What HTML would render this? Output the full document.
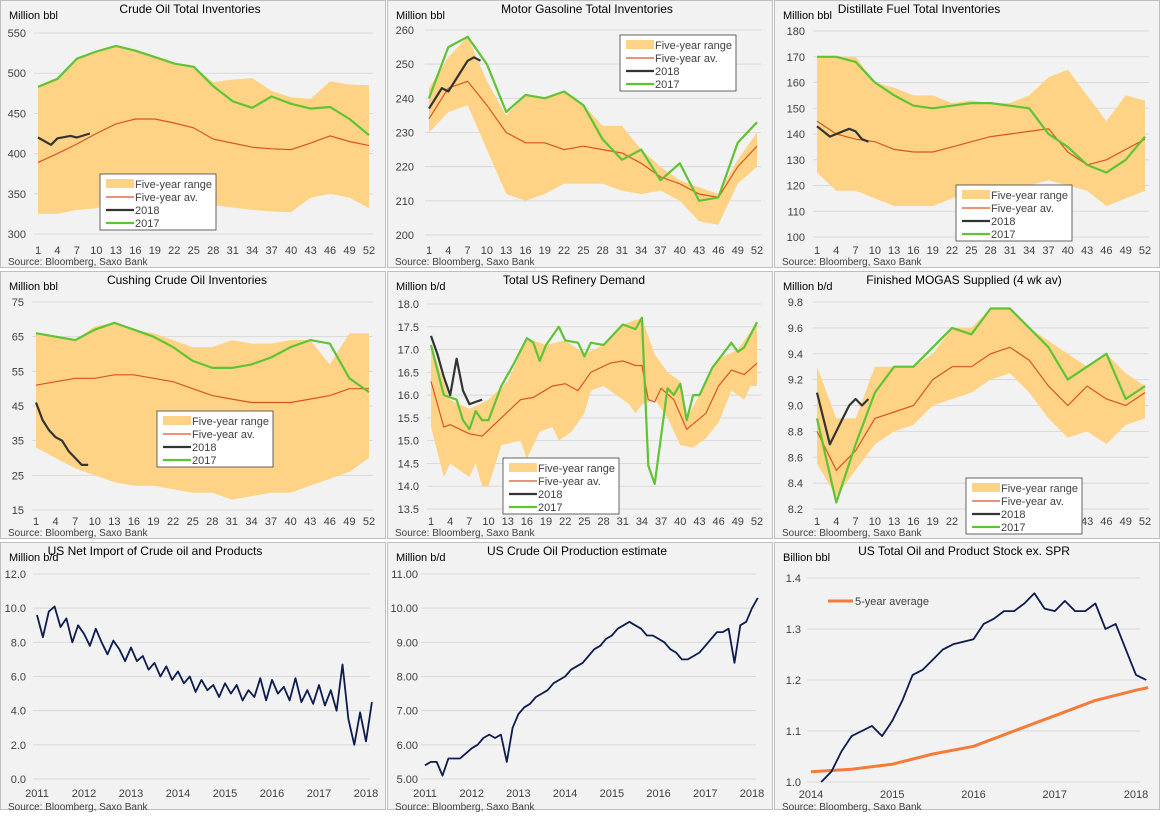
<!DOCTYPE html>
<html><head><meta charset="utf-8">
<style>
body{margin:0;background:#fff;width:1162px;height:815px;overflow:hidden;font-family:"Liberation Sans",sans-serif}
svg text{font-family:"Liberation Sans",sans-serif}
</style></head>
<body>
<svg id="s" width="1162" height="815" xmlns="http://www.w3.org/2000/svg"></svg>
<script>
// ---- shared week axis ----
const W = [1,4,7,10,13,16,19,22,25,28,31,34,37,40,43,46,49,52];
const weekTicks = [1,4,7,10,13,16,19,22,25,28,31,34,37,40,43,46,49,52];
// ---- chart 1 crude ----
const c1Top = [483,493,518,527,534,528,520,512,508,489,492,494,478,470,468,490,486,485];
const c1Low = [325,325,330,332,340,345,345,340,338,336,333,330,328,327,345,350,345,332];
const c1Avg = [389,400,412,425,437,443,443,438,432,418,413,408,406,405,413,422,415,410];
const c1y17 = [483,493,518,527,534,528,520,512,508,484,465,457,471,462,456,458,443,423];
const c1w18 = [1,3,4,6,7,9]; const c1y18 = [420,411,419,422,420,425];
// ---- chart 2 gasoline ----
const c2Top = [243,252,258,245,235,241,240,242,238,232,232,225,220,216,214,212,222,230];
const c2Low = [230,236,238,225,212,210,212,215,215,215,213,212,213,210,204,203,215,220];
const c2Avg = [234,243,245,238,230,227,227,225,226,225,224,221,217,215,212,211,220,226];
const c2y17 = [240,255,258,250,236,241,240,242,238,228,222,225,216,221,210,211,227,233];
const c2w18 = [1,3,4,6,7,8,9]; const c2y18 = [237,243,242,248,251,252,251];
// ---- chart 3 distillate ----
const c3Top = [170,170,170,160,158,155,155,152,153,152,152,155,162,165,155,145,155,153];
const c3Low = [125,118,118,115,112,112,112,115,118,118,120,120,122,120,118,112,115,118];
const c3Avg = [145,140,138,137,134,133,133,135,137,139,140,141,142,133,128,130,134,138];
const c3y17 = [170,170,168,160,155,151,150,151,152,152,151,150,140,135,128,125,130,139];
const c3w18 = [1,3,4,6,7,8,9]; const c3y18 = [143,139,140,142,141,138,137];
// ---- chart 4 cushing ----
const c4Top = [66,65,64,68,69,67,66,64,62,62,64,63,63,64,64,57,66,66];
const c4Low = [33,30,27,25,23,22,22,21,20,20,18,19,20,20,22,24,26,30];
const c4Avg = [51,52,53,53,54,54,53,52,50,48,47,46,46,46,47,48,50,50];
const c4y17 = [66,65,64,67,69,67,65,62,58,56,56,57,59,62,64,63,53,49];
const c4w18 = [1,2,3,4,5,6,7,8,9]; const c4y18 = [46,41,38,36,35,32,30,28,28];
// ---- chart 5 refinery ----
const c5wTop = [1,4,7,10,13,16,19,22,25,28,31,34,36,38,40,41,43,46,49,52];
const c5Top = [17.1,15.9,15.7,15.9,16.3,17.25,17.1,17.2,16.9,17.1,17.55,17.7,16.9,16.5,16.3,15.5,16.0,16.8,17.0,17.6];
const c5wLow = [1,3,4,6,7,8,9,10,12,15,16,18,20,21,23,25,26,28,30,32,33,34,36,38,40,42,44,46,48,50,51,52];
const c5Low = [15.3,14.2,14.5,14.3,14.2,14.5,14.0,14.0,14.9,15.0,14.6,15.2,15.3,15.0,15.2,15.6,16.1,16.2,16.0,15.8,15.6,15.8,15.9,15.5,14.9,14.85,15.05,15.4,16.1,15.9,16.2,16.2];
const c5wAvg = [1,3,4,7,9,12,15,17,20,22,24,26,29,31,33,34,35,36,37,39,41,44,46,48,50,52];
const c5Avg = [16.3,15.3,15.35,15.15,15.1,15.5,15.9,15.95,16.2,16.25,16.1,16.5,16.7,16.75,16.65,16.65,15.9,15.85,16.15,15.9,15.25,15.6,16.2,16.55,16.45,16.7];
const c5w17 = [1,3,4,5,6,7,8,9,10,12,14,16,17,18,19,21,22,24,25,26,28,31,33,34,35,36,38,39,40,41,42,43,45,48,49,50,52];
const c5y17 = [17.1,16.0,15.95,15.9,15.45,15.25,15.65,15.45,15.45,16.2,16.7,17.25,17.15,16.75,17.1,17.5,17.2,17.15,16.85,17.15,17.1,17.55,17.45,17.7,14.45,14.05,16.15,16.0,16.25,15.45,16.0,16.0,16.6,17.15,16.95,17.05,17.6];
const c5w18 = [1,2,3,4,5,6,7,8,9]; const c5y18 = [17.3,16.9,16.4,16.0,16.8,16.1,15.8,15.85,15.9];
// ---- chart 6 mogas ----
const c6Top = [9.3,8.9,8.9,9.3,9.3,9.3,9.4,9.6,9.6,9.75,9.75,9.6,9.5,9.4,9.3,9.4,9.25,9.15];
const c6Low = [8.55,8.3,8.5,8.7,8.8,8.85,9.0,9.05,9.1,9.2,9.25,9.1,8.9,8.75,8.8,8.7,8.85,8.9];
const c6Avg = [8.8,8.5,8.65,8.9,8.95,9.0,9.2,9.3,9.3,9.4,9.45,9.35,9.15,9.0,9.15,9.05,9.0,9.1];
const c6y17 = [8.9,8.25,8.7,9.1,9.3,9.3,9.45,9.6,9.55,9.75,9.75,9.6,9.45,9.2,9.3,9.4,9.05,9.15];
const c6w18 = [1,2,3,4,5,6,7,8,9]; const c6y18 = [9.1,8.9,8.7,8.8,8.9,9.0,9.05,9.0,9.05];
// ---- chart 7 net imports (every 1/8 year from 2011) ----
const c7Vals = [9.6,8.3,9.8,10.1,8.9,9.4,8.0,9.0, 8.5,7.8,8.8,8.0,7.3,8.1,7.6,6.9, 7.7,6.9,7.2,6.4,6.8,6.0,6.6,5.8, 6.3,5.6,6.0,5.1,5.8,5.2,5.5,4.8, 5.6,5.0,5.5,4.6,5.2,4.8,5.9,4.6, 5.8,5.0,5.4,4.6,5.9,4.5,5.2,4.4, 5.5,4.3,5.2,4.0,6.7,3.5,2.0,3.9, 2.2,4.5];
// ---- chart 8 crude production ----
const c8Vals = [5.4,5.5,5.5,5.1,5.6,5.6,5.6,5.75, 5.9,6.0,6.2,6.3,6.2,6.3,5.5,6.5, 6.9,7.1,7.2,7.4,7.5,7.6,7.8,7.9, 8.0,8.2,8.3,8.4,8.6,8.8,8.9,9.1, 9.2,9.4,9.5,9.6,9.5,9.4,9.2,9.2, 9.1,9.0,8.8,8.7,8.5,8.5,8.6,8.7, 8.9,9.1,9.3,9.3,9.4,8.4,9.5,9.6, 10.0,10.3];
// ---- chart 9 stocks (every 1/8 year from 2014.125) ----
const c9Vals = [1.00,1.02,1.06,1.09,1.10,1.11,1.09,1.12, 1.16,1.21,1.22,1.24,1.26,1.27,1.275,1.28, 1.31,1.32,1.335,1.335,1.35,1.37,1.34,1.335, 1.355,1.335,1.335,1.35,1.30,1.31,1.26,1.21, 1.20];
const c9AvgX = [2014.0,2014.5,2015.0,2015.5,2016.0,2016.5,2017.0,2017.5,2018.0,2018.15];
const c9Avg = [1.02,1.025,1.035,1.055,1.07,1.10,1.13,1.16,1.18,1.185];

const svg=document.getElementById('s');const NS='http://www.w3.org/2000/svg';
function mk(tag,attrs,parent,name,inter){const e=document.createElementNS(NS,tag);for(const k in attrs)e.setAttribute(k,attrs[k]);


(parent||svg).appendChild(e);return e;}
function txt(x,y,s,attrs,parent,name){const t=mk('text',Object.assign({x:x,y:y,'font-size':11,fill:'#404040'},attrs),parent,name,false);t.textContent=s;return t;}
function path(pts){return pts.map((p,i)=>(i?'L':'M')+p[0].toFixed(1)+','+p[1].toFixed(1)).join('');}

function panel(px,py,cfg){
  const g=mk('g',{},svg,cfg.id,false);
  mk('rect',{x:px+0.5,y:py+0.5,width:385,height:267,fill:'#f2f2f2',stroke:'#bfbfbf'},g,'panel-frame',false);
  const X=v=>px+cfg.xl+(v-cfg.x0)/(cfg.x1-cfg.x0)*(cfg.xr-cfg.xl);
  const Y=v=>py+cfg.yb+(v-cfg.y0)/(cfg.y1-cfg.y0)*(cfg.yt-cfg.yb);
  cfg.yticks.forEach(v=>{mk('line',{x1:px+cfg.xl-4,x2:px+cfg.xr+4,y1:Y(v),y2:Y(v),stroke:'#d9d9d9'},g,'gridline',false);
    txt(px+cfg.ylab,Y(v)+4,v.toFixed(cfg.dec),{'text-anchor':'end','font-size':11},g,'y-tick-label');});
  cfg.xticks.forEach(v=>txt(X(v),py+cfg.xty,String(v),{'text-anchor':'middle'},g,'x-tick-label'));
  txt(px+cfg.tx,py+13,cfg.title,{'text-anchor':'middle','font-size':12,fill:'#000'},g,'chart-title');
  txt(px+9,py+19,cfg.unit,{'font-size':11,fill:'#000'},g,'y-axis-unit');
  txt(px+8,py+cfg.srcy,'Source: Bloomberg, Saxo Bank',{'font-size':10,fill:'#404040'},g,'source-note');
  return {g,X,Y};
}
function weekly(px,py,cfg,d){
  const {g,X,Y}=panel(px,py,cfg);
  const top=d.wTop.map((w,i)=>[X(w),Y(d.top[i])]);const low=d.wLow.map((w,i)=>[X(w),Y(d.low[i])]).reverse();
  mk('path',{d:path(top.concat(low))+'Z',fill:'#ffd385'},g,'five-year-range-area',false);
  mk('path',{d:path(d.wAvg.map((w,i)=>[X(w),Y(d.avg[i])])),fill:'none',stroke:'#d9541e','stroke-width':1.2},g,'five-year-average-line',false);
  mk('path',{d:path(d.w17.map((w,i)=>[X(w),Y(d.y17[i])])),fill:'none',stroke:'#5fc334','stroke-width':2.2,'stroke-linejoin':'round'},g,'line-2017',false);
  mk('path',{d:path(d.w18.map((w,i)=>[X(w),Y(d.y18[i])])),fill:'none',stroke:'#333','stroke-width':2.2,'stroke-linejoin':'round'},g,'line-2018',false);
  const lx=px+cfg.lg[0],ly=py+cfg.lg[1];const lg=mk('g',{},g,'legend',false);
  mk('rect',{x:lx,y:ly,width:116,height:56,fill:'#fff',stroke:'#404040','stroke-width':0.8},lg,'legend-box',false);
  mk('rect',{x:lx+6,y:ly+5,width:28,height:9,fill:'#ffd385'},lg,'legend-swatch-range',false);
  mk('line',{x1:lx+6,x2:lx+34,y1:ly+23,y2:ly+23,stroke:'#d9541e','stroke-width':1.2},lg,'legend-swatch-average',false);
  mk('line',{x1:lx+6,x2:lx+34,y1:ly+36,y2:ly+36,stroke:'#333','stroke-width':2.2},lg,'legend-swatch-2018',false);
  mk('line',{x1:lx+6,x2:lx+34,y1:ly+49,y2:ly+49,stroke:'#5fc334','stroke-width':2.2},lg,'legend-swatch-2017',false);
  ['Five-year range','Five-year av.','2018','2017'].forEach((s,i)=>txt(lx+35,ly+14+i*13,s,{'font-size':11},lg,'legend-entry'));
}
function dated(px,py,cfg,series){
  const {g,X,Y}=panel(px,py,cfg);
  series.forEach(s=>mk('path',{d:path(s.x.map((x,i)=>[X(x),Y(s.y[i])])),fill:'none',stroke:s.c,'stroke-width':s.w,'stroke-linejoin':'round'},g,s.name,false));
  return {g,X,Y};
}
const base={x0:1,x1:52,xty:254,srcy:265,dec:0};
function wk(top,low,avg,y17,w18,y18){return {wTop:W,top,wLow:W,low,wAvg:W,avg,w17:W,y17,w18,y18};}
weekly(0,0,Object.assign({},base,{id:'crude-oil-inventories-chart',title:'Crude Oil Total Inventories',unit:'Million bbl',tx:190,xl:38,xr:369,ylab:26,y0:300,y1:550,yt:33,yb:234,yticks:[300,350,400,450,500,550],xticks:weekTicks,lg:[100,174]}),wk(c1Top,c1Low,c1Avg,c1y17,c1w18,c1y18));
weekly(387,0,Object.assign({},base,{id:'motor-gasoline-inventories-chart',title:'Motor Gasoline Total Inventories',unit:'Million bbl',tx:200,xl:42,xr:370,ylab:27,y0:200,y1:260,yt:30,yb:235,yticks:[200,210,220,230,240,250,260],xticks:weekTicks,lg:[233,35]}),wk(c2Top,c2Low,c2Avg,c2y17,c2w18,c2y18));
weekly(774,0,Object.assign({},base,{id:'distillate-inventories-chart',title:'Distillate Fuel Total Inventories',unit:'Million bbl',tx:145,xl:43,xr:371,ylab:31,y0:100,y1:180,yt:31,yb:237,yticks:[100,110,120,130,140,150,160,170,180],xticks:weekTicks,lg:[182,185]}),wk(c3Top,c3Low,c3Avg,c3y17,c3w18,c3y18));
weekly(0,271,Object.assign({},base,{id:'cushing-inventories-chart',title:'Cushing Crude Oil Inventories',unit:'Million bbl',tx:187,xl:36,xr:369,ylab:24,y0:15,y1:75,yt:31,yb:239,yticks:[15,25,35,45,55,65,75],xticks:weekTicks,lg:[157,140]}),wk(c4Top,c4Low,c4Avg,c4y17,c4w18,c4y18));
weekly(387,271,Object.assign({},base,{id:'refinery-demand-chart',title:'Total US Refinery Demand',unit:'Million b/d',tx:187,xl:44,xr:370,ylab:32,dec:1,y0:13.5,y1:18.0,yt:33,yb:238,yticks:[13.5,14,14.5,15,15.5,16,16.5,17,17.5,18],xticks:weekTicks,lg:[116,187]}),{wTop:c5wTop,top:c5Top,wLow:c5wLow,low:c5Low,wAvg:c5wAvg,avg:c5Avg,w17:c5w17,y17:c5y17,w18:c5w18,y18:c5y18});
weekly(774,271,Object.assign({},base,{id:'mogas-supplied-chart',title:'Finished MOGAS Supplied (4 wk av)',unit:'Million b/d',tx:190,xl:43,xr:371,ylab:29,dec:1,y0:8.2,y1:9.8,yt:31,yb:238,yticks:[8.2,8.4,8.6,8.8,9,9.2,9.4,9.6,9.8],xticks:weekTicks,lg:[192,207]}),wk(c6Top,c6Low,c6Avg,c6y17,c6w18,c6y18));
// dated charts
const x7=c7Vals.map((v,i)=>2011+i*0.125);
dated(0,542,{id:'net-import-chart',title:'US Net Import of Crude oil and Products',unit:'Million b/d',tx:155,x0:2011,x1:2018,xl:37,xr:366,xty:255,srcy:268,ylab:26,dec:1,y0:0,y1:12,yt:32,yb:237,yticks:[0,2,4,6,8,10,12],xticks:[2011,2012,2013,2014,2015,2016,2017,2018]},[{x:x7,y:c7Vals,c:'#0d1b4f',w:1.8,name:'net-import-line'}]);
const x8=c8Vals.map((v,i)=>2011+i*0.125);
dated(387,542,{id:'crude-production-chart',title:'US Crude Oil Production  estimate',unit:'Million b/d',tx:190,x0:2011,x1:2018,xl:38,xr:365,xty:255,srcy:268,ylab:31,dec:2,y0:5,y1:11,yt:32,yb:237,yticks:[5,6,7,8,9,10,11],xticks:[2011,2012,2013,2014,2015,2016,2017,2018]},[{x:x8,y:c8Vals,c:'#0d1b4f',w:1.8,name:'production-line'}]);
const x9=c9Vals.map((v,i)=>2014.125+i*0.125);
const p9=dated(774,542,{id:'total-stock-chart',title:'US Total Oil and Product  Stock ex. SPR',unit:'Billion bbl',tx:190,x0:2014,x1:2018,xl:37,xr:362,xty:256,srcy:268,ylab:27,dec:1,y0:1.0,y1:1.4,yt:36,yb:240,yticks:[1.0,1.1,1.2,1.3,1.4],xticks:[2014,2015,2016,2017,2018]},[{x:c9AvgX,y:c9Avg,c:'#f47b3a',w:3,name:'five-year-average-line'},{x:x9,y:c9Vals,c:'#0d1b4f',w:1.8,name:'stock-line'}]);
mk('line',{x1:828,x2:853,y1:601,y2:601,stroke:'#f47b3a','stroke-width':3},p9.g,'legend-swatch-average',false);
txt(855,605,'5-year average',{'font-size':11},p9.g,'legend-entry');
</script>
</body></html>
